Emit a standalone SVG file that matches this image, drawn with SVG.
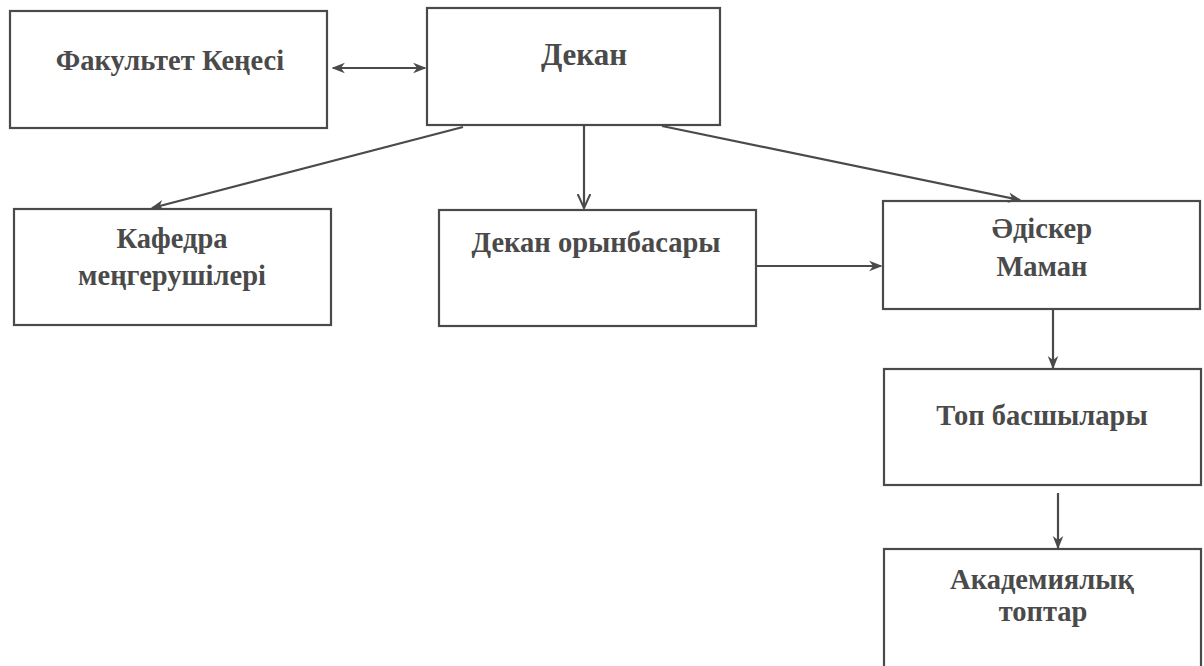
<svg xmlns="http://www.w3.org/2000/svg" width="1204" height="666" viewBox="0 0 1204 666">
<style>
.box{fill:#fff;stroke:#4a4a4a;stroke-width:2.2}
.t{font-family:"Liberation Serif","Times New Roman",serif;font-weight:bold;font-size:28.5px;fill:#4a4a4a;text-anchor:middle}
.big{font-size:31px}
.c{stroke:#4a4a4a;stroke-width:2.2;fill:none}
</style>
<defs>
<marker id="ah" viewBox="0 0 10 10" refX="9" refY="5" markerWidth="6" markerHeight="6" orient="auto-start-reverse" markerUnits="strokeWidth">
<path d="M0,1 L10,5 L0,9 L3,5 Z" fill="#4a4a4a"/>
</marker>
<marker id="av" viewBox="0 0 12 10" refX="11" refY="5" markerWidth="7" markerHeight="6" orient="auto" markerUnits="strokeWidth">
<path d="M0,0 L11,5 L0,10" fill="none" stroke="#4a4a4a" stroke-width="1.6"/>
</marker>
</defs>
<rect width="1204" height="666" fill="#fff"/>
<g id="n-fakultet"><rect class="box" x="10" y="11" width="317" height="117"/><text class="t" x="170" y="70">Факультет Кеңесі</text></g>
<g id="n-dekan"><rect class="box" x="427" y="8" width="293" height="117"/><text class="t big" x="584" y="65">Декан</text></g>
<g id="n-kafedra"><rect class="box" x="14" y="209" width="317" height="116"/><text class="t" x="172" y="248">Кафедра</text><text class="t" x="172" y="285">меңгерушілері</text></g>
<g id="n-orynbasar"><rect class="box" x="439" y="210" width="317" height="116"/><text class="t" x="596" y="252">Декан орынбасары</text></g>
<g id="n-adisker"><rect class="box" x="883" y="201" width="317" height="108"/><text class="t" x="1042" y="238">Әдіскер</text><text class="t" x="1042" y="276">Маман</text></g>
<g id="n-top"><rect class="box" x="884" y="369" width="317" height="116"/><text class="t" x="1042" y="425">Топ басшылары</text></g>
<g id="n-akadem"><rect class="box" x="884" y="549" width="317" height="130"/><text class="t" x="1042" y="589">Академиялық</text><text class="t" x="1043" y="621">топтар</text></g>
<g id="connectors">
<line class="c" x1="333" y1="68" x2="425" y2="68" marker-start="url(#ah)" marker-end="url(#ah)"/>
<line class="c" x1="463" y1="127" x2="152" y2="208" marker-end="url(#ah)"/>
<line class="c" x1="584" y1="125" x2="584" y2="208" marker-end="url(#av)"/>
<line class="c" x1="662" y1="126" x2="1020" y2="200" marker-end="url(#ah)"/>
<line class="c" x1="756" y1="266" x2="881" y2="266" marker-end="url(#ah)"/>
<line class="c" x1="1053" y1="309" x2="1053" y2="368" marker-end="url(#ah)"/>
<line class="c" x1="1058" y1="493" x2="1058" y2="548" marker-end="url(#ah)"/>
</g>
</svg>
